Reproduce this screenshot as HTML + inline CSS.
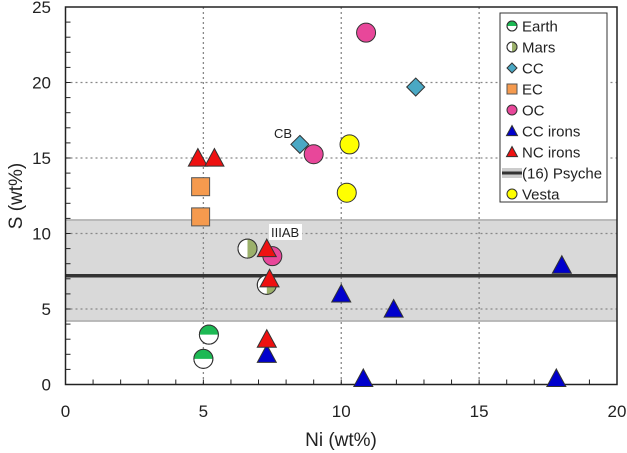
<!DOCTYPE html>
<html><head><meta charset="utf-8"><style>
body{margin:0;background:#fff;}
svg{display:block;font-family:"Liberation Sans",sans-serif;}
</style></head><body>
<svg id="chart" width="627" height="453"></svg>
<script>
const earthX=[5.0,5.2], earthY=[1.7,3.3];
const marsX=[6.6,7.3], marsY=[9.0,6.6];
const ccX=[8.5,12.7], ccY=[15.9,19.7];
const ecX=[4.9,4.9], ecY=[13.1,11.1];
const ocX=[10.9,9.0,7.5], ocY=[23.3,15.25,8.5];
const ccIronX=[7.3,10.0,11.9,10.8,18.0,17.8], ccIronY=[2.0,6.0,5.0,0.4,7.9,0.4];
const ncIronX=[4.8,5.4,7.3,7.4,7.3], ncIronY=[15.0,15.0,9.0,7.0,3.0];
const vestaX=[10.3,10.2], vestaY=[15.9,12.7];
const psycheS=[7.2], psycheBand=[4.2,10.9];
const xTicks=[0,5,10,15,20], yTicks=[0,5,10,15,20,25];

const NS='http://www.w3.org/2000/svg', svg=document.getElementById('chart');
const X0=65.5,X1=617,Y0=384.5,Y1=7;
const sx=v=>X0+(X1-X0)*v/20, sy=v=>Y0-(Y0-Y1)*v/25;
function mk(tag,attrs,parent){const e=document.createElementNS(NS,tag);for(const k in attrs)e.setAttribute(k,attrs[k]);(parent||svg).appendChild(e);return e;}

// band
let b=mk('rect',{x:X0,y:sy(psycheBand[1]),width:X1-X0,height:sy(psycheBand[0])-sy(psycheBand[1]),fill:'#d9d9d9',stroke:'#8c8c8c','stroke-width':1});


// grid
xTicks.slice(1,-1).forEach(t=>{const g=mk('line',{x1:sx(t),x2:sx(t),y1:Y1,y2:Y0,stroke:'#888','stroke-dasharray':'2,3','stroke-width':1.3});

});
yTicks.slice(1,-1).forEach(t=>{const g=mk('line',{x1:X0,x2:X1,y1:sy(t),y2:sy(t),stroke:'#888','stroke-dasharray':'2,3','stroke-width':1.3});

});
// psyche line
let pl=mk('line',{x1:X0,x2:X1,y1:sy(psycheS[0]),y2:sy(psycheS[0]),stroke:'#333','stroke-width':3.5});


// frame
let fr=mk('rect',{x:X0,y:Y1,width:X1-X0,height:Y0-Y1,fill:'none',stroke:'#222','stroke-width':1.5});


// minor ticks
for(let i=1;i<20;i++){mk('line',{x1:sx(i),x2:sx(i),y1:Y0,y2:Y0-5,stroke:'#222','stroke-width':1});}
for(let i=1;i<25;i++){mk('line',{x1:X0,x2:X0+5,y1:sy(i),y2:sy(i),stroke:'#222','stroke-width':1});}
// tick labels
xTicks.forEach(t=>{const e=mk('text',{x:sx(t),y:417,'font-size':17,'text-anchor':'middle',fill:'#222'});e.textContent=t;

});
yTicks.forEach(t=>{const e=mk('text',{x:51,y:sy(t)+6,'font-size':17,'text-anchor':'end',fill:'#222'});e.textContent=t;

});
let xt=mk('text',{x:341,y:446,'font-size':19,'text-anchor':'middle',fill:'#222'});xt.textContent='Ni (wt%)';


let yt=mk('text',{x:0,y:0,'font-size':19,'text-anchor':'middle',fill:'#222',transform:'translate(22,196) rotate(-90)'});yt.textContent='S (wt%)';



// markers
function circle(cx,cy,r,fill,p){return mk('circle',{cx,cy,r,fill,stroke:'#333','stroke-width':1},p);}
function half(cx,cy,r,type,p){const g=mk('g',{},p);
 circle(cx,cy,r,'#fff',g);
 if(type==='earth') mk('path',{d:`M${cx-r},${cy} A${r},${r} 0 0 1 ${cx+r},${cy} Z`,fill:'#1db954'},g);
 else mk('path',{d:`M${cx},${cy-r} A${r},${r} 0 0 1 ${cx},${cy+r} Z`,fill:'#9bb06a'},g);
 mk('circle',{cx,cy,r,fill:'none',stroke:'#333','stroke-width':1},g);return g;}
function diamond(cx,cy,s,p){return mk('path',{d:`M${cx},${cy-s} L${cx+s},${cy} L${cx},${cy+s} L${cx-s},${cy} Z`,fill:'#4aa8c4',stroke:'#333','stroke-width':1},p);}
function square(cx,cy,s,p){return mk('rect',{x:cx-s,y:cy-s,width:2*s,height:2*s,fill:'#f59a4e',stroke:'#555','stroke-width':1},p);}
function tri(cx,cy,s,fill,p){return mk('path',{d:`M${cx},${cy-s} L${cx+s},${cy+s*0.85} L${cx-s},${cy+s*0.85} Z`,fill,stroke:'#333','stroke-width':1},p);}

ecX.forEach((v,i)=>{const e=square(sx(v),sy(ecY[i]),9);});
ccX.forEach((v,i)=>{const e=diamond(sx(v),sy(ccY[i]),9);});
ocX.forEach((v,i)=>{const e=circle(sx(v),sy(ocY[i]),9.5,'#e8479a');});
vestaX.forEach((v,i)=>{const e=circle(sx(v),sy(vestaY[i]),9.5,'#ffff00');});
earthX.forEach((v,i)=>{const e=half(sx(v),sy(earthY[i]),9.5,'earth');});
marsX.forEach((v,i)=>{const e=half(sx(v),sy(marsY[i]),9.5,'mars');});
ccIronX.forEach((v,i)=>{const e=tri(sx(v),sy(ccIronY[i]),9.5,'#0000cc');});
ncIronX.forEach((v,i)=>{const e=tri(sx(v),sy(ncIronY[i]),9.5,'#ee1111');});

// annotations
let cb=mk('text',{x:274,y:138,'font-size':13,fill:'#222'});cb.textContent='CB';


mk('rect',{x:269,y:224,width:33,height:16,fill:'#fff'});
let ia=mk('text',{x:271,y:237,'font-size':13,fill:'#222'});ia.textContent='IIIAB';



// legend
const lg=mk('g',{});


mk('rect',{x:500,y:13,width:107,height:189,fill:'#fff',stroke:'#333','stroke-width':1},lg);
const names=['Earth','Mars','CC','EC','OC','CC irons','NC irons','(16) Psyche','Vesta'];
names.forEach((n,i)=>{const y=26+i*21,g=mk('g',{},lg),cx=512;
 
 
 if(i===0)half(cx,y,5,'earth',g);
 else if(i===1)half(cx,y,5,'mars',g);
 else if(i===2)diamond(cx,y,5,g);
 else if(i===3)square(cx,y,5,g);
 else if(i===4)circle(cx,y,5,'#e8479a',g);
 else if(i===5)tri(cx,y,5.5,'#0000cc',g);
 else if(i===6)tri(cx,y,5.5,'#ee1111',g);
 else if(i===7){mk('rect',{x:502,y:y-5,width:20,height:10,fill:'#ccc'},g);mk('line',{x1:502,x2:522,y1:y,y2:y,stroke:'#333','stroke-width':3},g);}
 else circle(cx,y,5,'#ffff00',g);
 const t=mk('text',{x:i===7?522:522,y:y+5.5,'font-size':15,fill:'#222'},g);t.textContent=n;});
</script>
</body></html>
